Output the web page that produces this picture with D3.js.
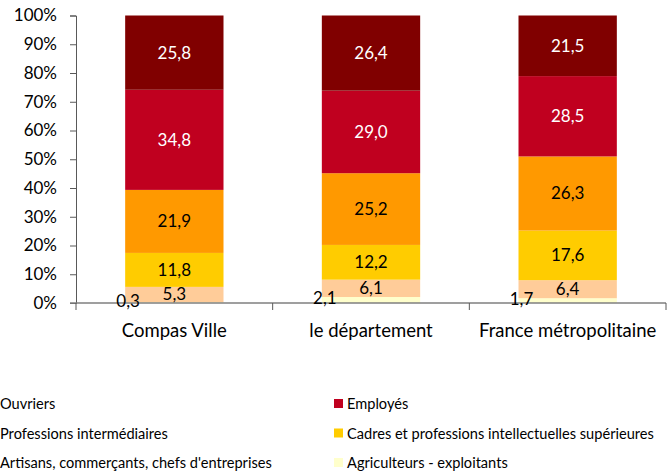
<!DOCTYPE html>
<html>
<head>
<meta charset="utf-8">
<script src="https://cdn.jsdelivr.net/npm/d3@7"></script>
<style>
body { margin: 0; background: #fff; }
text { font-family: Lato, "Open Sans", sans-serif; }
</style>
</head>
<body>
<div id="chart"></div>
<script>
var categories = ["Compas Ville", "le département", "France métropolitaine"]
// bottom to top
var series = ["Agriculteurs - exploitants", "Artisans, commerçants, chefs d'entreprises", "Cadres et professions intellectuelles supérieures", "Professions intermédiaires", "Employés", "Ouvriers"]
var colors = ["#FFFFCC", "#FFCC99", "#FFCC00", "#FF9900", "#C0001F", "#800000"]
var labelColors = ["#000", "#000", "#000", "#000", "#fff", "#fff"]
var agriculteurs = [0.3, 2.1, 1.7]
var artisans = [5.3, 6.1, 6.4]
var cadres = [11.8, 12.2, 17.6]
var intermediaires = [21.9, 25.2, 26.3]
var employes = [34.8, 29.0, 28.5]
var ouvriers = [25.8, 26.4, 21.5]
var yTicks = [0, 0.1, 0.2, 0.3, 0.4, 0.5, 0.6, 0.7, 0.8, 0.9, 1]

var values = [agriculteurs, artisans, cadres, intermediaires, employes, ouvriers]

var rows = categories.map(function(c, i){
	var r = {cat: c}
	series.forEach(function(s, j){ r[s] = values[j][i] })
	return r
})

var width = 669, height = 474

var svg = d3.select("#chart").
			append("svg").
			attr("width", width).
			attr("height", height)

var x = d3.scaleBand().
			domain(categories).
			range([76, 666]).
			paddingInner(0.5).
			paddingOuter(0.25)

var y = d3.scaleLinear().
			domain([0, 1]).
			range([303, 15.5])

//100% stacked like excel does
var stack = d3.stack().
			keys(series).
			offset(d3.stackOffsetExpand)(rows)

var layer = svg.selectAll("g.layer").
			data(stack).
			enter().
			append("g").
			attr("class", "layer").
			style("fill", function(d, i){ return colors[i] })

layer.selectAll("rect").
	data(function(d){ return d }).
	enter().
	append("rect").
	attr("x", function(d){ return x(d.data.cat) }).
	attr("y", function(d){ return y(d[1]) }).
	attr("width", x.bandwidth()).
	attr("height", function(d){ return y(d[0]) - y(d[1]) })

//y axis
var yAxis = svg.append("g").
			attr("transform", "translate(76,0)").
			call(d3.axisLeft(y).tickValues(yTicks).tickSize(6).tickPadding(13).tickFormat(d3.format(".0%")))
yAxis.select(".domain").attr("stroke", "#595959")
yAxis.selectAll(".tick line").attr("stroke", "#595959")
yAxis.selectAll("text").style("font-size", "17px").style("fill", "#000").style("font-family", "Lato, sans-serif")

//x axis, line goes a bit past the y axis
svg.append("line").
	attr("x1", 70).
	attr("x2", 666).
	attr("y1", 303).
	attr("y2", 303).
	attr("stroke", "#7f7f7f").
	attr("stroke-width", 1.3)

var xTicks = [76].concat(categories.map(function(c){ return x(c) + x.bandwidth() / 2 + x.step() / 2 }))
svg.selectAll("line.xtick").
	data(xTicks).
	enter().
	append("line").
	attr("class", "xtick").
	attr("x1", function(d){ return d }).
	attr("x2", function(d){ return d }).
	attr("y1", 303).
	attr("y2", 310).
	attr("stroke", "#595959")

svg.selectAll("text.cat").
	data(categories).
	enter().
	append("text").
	attr("class", "cat").
	attr("x", function(d){ return x(d) + x.bandwidth() / 2 }).
	attr("y", 337).
	attr("text-anchor", "middle").
	style("font-size", "18.5px").
	text(function(d){ return d })

//labels on top of everything (small ones sit over the axis line)
var labels = svg.selectAll("g.lab").
			data(stack).
			enter().
			append("g").
			attr("class", "lab")

labels.each(function(s, i){
	d3.select(this).selectAll("text").
		data(s).
		enter().
		append("text").
		attr("x", function(d){
			// the small agriculteurs labels sit on the left edge
			if (i == 0) return x(d.data.cat) + 3
			return x(d.data.cat) + x.bandwidth() / 2
		}).
		attr("y", function(d){ return (y(d[0]) + y(d[1])) / 2 - (i == 0 ? 1.5 : 0) }).
		attr("dy", "0.35em").
		attr("text-anchor", "middle").
		style("fill", labelColors[i]).
		style("font-size", "17px").
		text(function(d){ return d3.format(".1f")(d.data[s.key]).replace(".", ",") })
})

//legend, two columns, left column swatches fall off the edge
var legendOrder = ["Ouvriers", "Employés", "Professions intermédiaires", "Cadres et professions intellectuelles supérieures", "Artisans, commerçants, chefs d'entreprises", "Agriculteurs - exploitants"]
var leg = svg.selectAll("g.leg").
			data(legendOrder).
			enter().
			append("g").
			attr("class", "leg").
			attr("transform", function(d, i){
				var lx = (i % 2 == 0) ? -13 : 334
				var ly = 404 + Math.floor(i / 2) * 29.5
				return "translate(" + lx + "," + ly + ")"
			})

leg.append("rect").
	attr("x", 0).
	attr("y", -5).
	attr("width", 9).
	attr("height", 9).
	style("fill", function(d){ return colors[series.indexOf(d)] })

leg.append("text").
	attr("x", 13).
	attr("y", 0).
	attr("dy", "0.35em").
	style("font-size", "14.6px").
	text(function(d){ return d })
</script>
</body>
</html>
